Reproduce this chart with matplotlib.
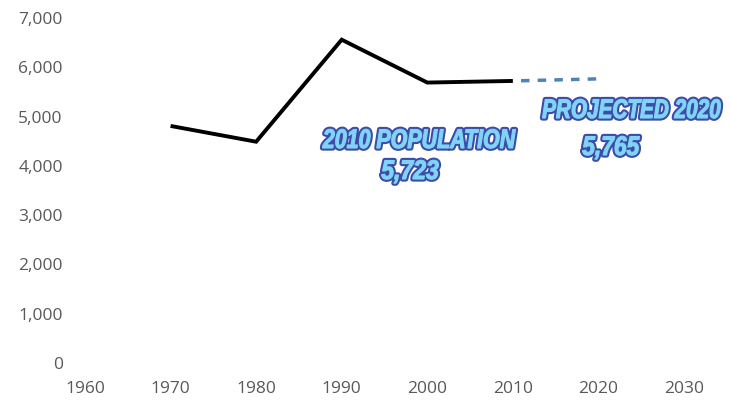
import matplotlib
matplotlib.use("Agg")
import matplotlib.pyplot as plt
from matplotlib.ticker import FuncFormatter
from matplotlib.textpath import TextPath
from matplotlib.patches import PathPatch
from matplotlib.font_manager import FontProperties
from matplotlib.transforms import Affine2D

# historic population
years = [1970, 1980, 1990, 2000, 2010]
population = [4810, 4490, 6560, 5690, 5723]

# projection
proj_years = [2010, 2020]
proj_population = [5723, 5765]

x_ticks = [1960, 1970, 1980, 1990, 2000, 2010, 2020, 2030]
y_ticks = [0, 1000, 2000, 3000, 4000, 5000, 6000, 7000]

plt.rcParams['font.family'] = ['Open Sans', 'DejaVu Sans']

W, H = 731, 405
fig = plt.figure(figsize=(W / 100, H / 100), dpi=100)
ax = fig.add_axes([85 / W, 42 / H, (684 - 85) / W, (363 - 18) / H])

ax.plot(years, population, color='black', linewidth=2.8, solid_capstyle='butt',
        solid_joinstyle='miter')
ax.plot(proj_years, proj_population, color='#4F81BD', linewidth=2.5,
        linestyle=(2.45, (2.45, 2.35)), dash_capstyle='butt')

ax.set_xlim(1960, 2030)
ax.set_ylim(0, 7000)
ax.set_xticks(x_ticks)
ax.set_yticks(y_ticks)
ax.yaxis.set_major_formatter(FuncFormatter(lambda v, p: f"{int(v):,}"))
ax.tick_params(axis='both', length=0, labelsize=12.5, labelcolor='#595959')
ax.tick_params(axis='y', pad=16)
ax.tick_params(axis='x', pad=13)
for s in ax.spines.values():
    s.set_visible(False)

# condensed heavy italic labels with an outline, drawn as squeezed text paths
fp = FontProperties(family='Liberation Sans', weight='bold', style='italic')


def outlined_label(text, x0, x1, ytop, cap_px=18.5):
    path = TextPath((0, 0), text, size=100, prop=fp)
    ref = TextPath((0, 0), "H", size=100, prop=fp).get_extents()
    ext = path.get_extents()
    sy = cap_px / ref.height
    sx = (x1 - x0 - 5) / ext.width
    tr = Affine2D().translate(-ext.x0, -ref.y1).scale(sx, sy) \
        .translate(x0 + 2.5, H - ytop - 2.5)
    fig.patches.append(PathPatch(path, transform=tr, facecolor='#3D4CA8',
                                 edgecolor='#3D4CA8', linewidth=3.8,
                                 joinstyle='round'))
    fig.patches.append(PathPatch(path, transform=tr, facecolor='#80D4F6',
                                 edgecolor='#80D4F6', linewidth=0.8,
                                 joinstyle='round'))


outlined_label("2010 POPULATION", 320, 518, 127)
outlined_label("5,723", 379, 441, 158)
outlined_label("PROJECTED 2020", 540, 723, 97)
outlined_label("5,765", 580, 642, 134)

fig.savefig("out.png", dpi=100)
